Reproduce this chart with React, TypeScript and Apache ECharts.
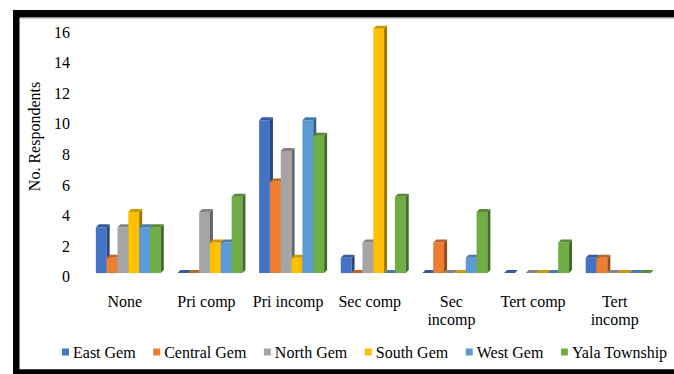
import React, { useEffect, useRef } from "react";
import * as echarts from "echarts";

const categories = ["None", "Pri comp", "Pri incomp", "Sec comp", "Sec\nincomp", "Tert comp", "Tert\nincomp"];
const seriesNames = ["East Gem", "Central Gem", "North Gem", "South Gem", "West Gem", "Yala Township"];
const eastGem = [3, 0, 10, 1, 0, 0, 1];
const centralGem = [1, 0, 6, 0, 2, null, 1];
const northGem = [3, 4, 8, 2, 0, 0, 0];
const southGem = [4, 2, 1, 16, 0, 0, 0];
const westGem = [3, 2, 10, 0, 1, 0, 0];
const yalaTownship = [3, 5, 9, 5, 4, 2, 0];
const seriesColors = ["#4472C4", "#ED7D31", "#A5A5A5", "#FFC000", "#5B9BD5", "#70AD47"];
const yTicks = { min: 0, max: 16, interval: 2 };

const allSeries = [eastGem, centralGem, northGem, southGem, westGem, yalaTownship];

const FONT = "Liberation Serif, Times New Roman, serif";

function shade(hex: string, f: number) {
  const n = parseInt(hex.slice(1), 16);
  const r = Math.round(((n >> 16) & 255) * f);
  const g = Math.round(((n >> 8) & 255) * f);
  const b = Math.round((n & 255) * f);
  return `rgb(${r},${g},${b})`;
}

const SHIFT_X = 3.5;
const SHIFT_Y = -3.6;
const DEPTH = 3;
const GROUP_FRAC = 0.796;

function makeRender(si: number, color: string) {
  return (params: any, api: any) => {
    const cat = api.value(0);
    const val = api.value(1);
    if (val === null || val === undefined || isNaN(val)) return null;
    const base = api.coord([cat, 0]);
    const top = api.coord([cat, val]);
    const band = api.size([1, 0])[0];
    const w = (band * GROUP_FRAC) / 6;
    const x0 = base[0] - 3 * w + si * w + SHIFT_X;
    const x1 = x0 + w;
    const yb = base[1] + SHIFT_Y;
    const yt = top[1] + SHIFT_Y;
    const d = DEPTH;
    const children: any[] = [];
    if (yb - yt > 0.1) {
      children.push({
        type: "rect",
        shape: { x: x0, y: yt, width: w, height: yb - yt },
        style: { fill: color },
      });
      children.push({
        type: "polygon",
        shape: { points: [[x1, yb], [x1 + d, yb - d], [x1 + d, yt - d], [x1, yt]] },
        style: { fill: shade(color, 0.62) },
      });
    }
    children.push({
      type: "polygon",
      shape: { points: [[x0, yt], [x0 + d, yt - d], [x1 + d, yt - d], [x1, yt]] },
      style: { fill: shade(color, 0.8) },
    });
    return { type: "group", children };
  };
}

export default function App() {
  const ref = useRef<HTMLDivElement>(null);
  useEffect(() => {
    if (!ref.current) return;
    const chart = echarts.init(ref.current, null, { renderer: "svg" });
    const series = allSeries.map((arr, si) => ({
      type: "custom",
      name: seriesNames[si],
      itemStyle: { color: seriesColors[si] },
      renderItem: makeRender(si, seriesColors[si]),
      data: arr.map((v, i) => [i, v === null ? "-" : v]),
      encode: { x: 0, y: 1 },
    }));
    chart.setOption({
      animation: false,
      backgroundColor: "#ffffff",
      textStyle: { fontFamily: FONT },
      grid: { left: 84, right: 18.5, top: 32.3, bottom: 97.3, containLabel: false },
      xAxis: {
        type: "category",
        data: categories,
        axisLine: { show: false },
        axisTick: { show: false },
        splitLine: { show: false },
        axisLabel: {
          interval: 0,
          color: "#000",
          fontFamily: FONT,
          fontSize: 16,
          lineHeight: 18,
          margin: 16,
        },
      },
      yAxis: {
        type: "value",
        min: yTicks.min,
        max: yTicks.max,
        interval: yTicks.interval,
        axisLine: { show: false },
        axisTick: { show: false },
        splitLine: { show: false },
        axisLabel: { color: "#000", fontFamily: FONT, fontSize: 16, margin: 14 },
      },
      legend: {
        data: seriesNames,
        left: 57,
        top: 339,
        icon: "rect",
        itemWidth: 7,
        itemHeight: 7,
        itemGap: 17.5,
        textStyle: { color: "#000", fontFamily: FONT, fontSize: 16, padding: [0, 0, 0, -1] },
      },
      graphic: [
        {
          type: "text",
          x: 34,
          y: 136.5,
          rotation: Math.PI / 2,
          style: {
            text: "No. Respondents",
            fill: "#000",
            font: `16px ${FONT}`,
            textAlign: "center",
            textVerticalAlign: "middle",
          },
        },
        { type: "rect", z: 100, shape: { x: 13, y: 10, width: 661, height: 7.5 }, style: { fill: "#000" } },
        { type: "rect", z: 100, shape: { x: 20, y: 17.5, width: 654, height: 1 }, style: { fill: "#999" } },
        { type: "rect", z: 100, shape: { x: 13, y: 10, width: 6.5, height: 364 }, style: { fill: "#000" } },
        { type: "rect", z: 100, shape: { x: 13, y: 369.3, width: 661, height: 5 }, style: { fill: "#000" } },
      ],
      series,
    });
    return () => chart.dispose();
  }, []);
  return (
    <div
      ref={ref}
      style={{ position: "fixed", left: 0, top: 0, width: 674, height: 374, background: "#fff" }}
    />
  );
}
